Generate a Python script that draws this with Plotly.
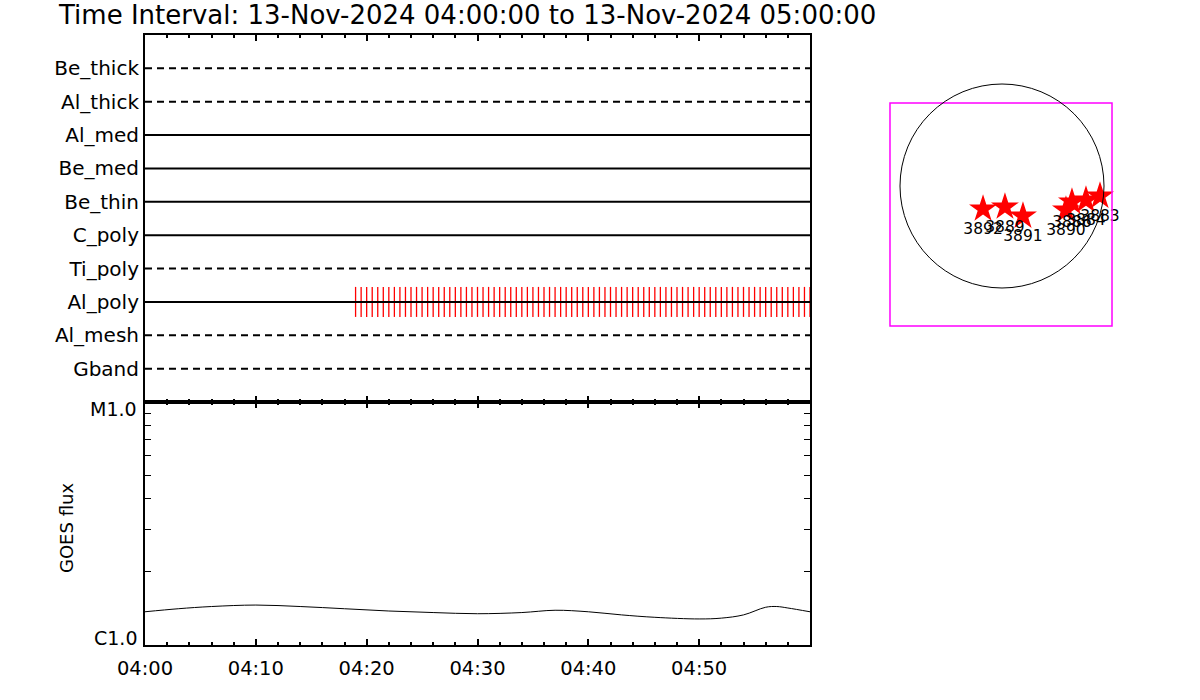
import math
import plotly.graph_objects as go
from datetime import datetime, timedelta

# ---------------- data ----------------
T_START = datetime(2024, 11, 13, 4, 0, 0)
T_END = datetime(2024, 11, 13, 5, 0, 0)

# detectors, bottom to top
detectors = ["Gband", "Al_mesh", "Al_poly", "Ti_poly", "C_poly",
             "Be_thin", "Be_med", "Al_med", "Al_thick", "Be_thick"]
detector_in = [False, False, True, False, True, True, True, True, False, False]

# Al_poly event marks (minutes after 04:00)
event_minutes = [19.0, 19.5, 20.0, 20.5, 21.0, 21.5, 22.0, 22.5, 23.0, 23.5,
                 24.0, 24.5, 25.0, 25.5, 26.0, 26.5, 27.0, 27.5, 28.0, 28.5,
                 29.0, 29.5, 30.0, 30.5, 31.0, 31.5, 32.0, 32.5, 33.0, 33.5,
                 34.0, 34.5, 35.0, 35.5, 36.0, 36.5, 37.0, 37.5, 38.0, 38.5,
                 39.0, 39.5, 40.0, 40.5, 41.0, 41.5, 42.0, 42.5, 43.0, 43.5,
                 44.0, 44.5, 45.0, 45.5, 46.0, 46.5, 47.0, 47.5, 48.0, 48.5,
                 49.0, 49.5, 50.0, 50.5, 51.0, 51.5, 52.0, 52.5, 53.0, 53.5,
                 54.0, 54.5, 55.0, 55.5, 56.0, 56.5, 57.0, 57.5, 58.0, 58.5,
                 59.0, 59.5, 60.0]
event_detector = "Al_poly"

# GOES flux (minutes after 04:00, W/m^2)
goes_minutes = [0, 3, 6, 10, 14, 18, 22, 26, 30, 34, 37, 40, 43, 46, 50,
                52, 54, 56, 57, 58, 60]
goes_flux = [1.37e-6, 1.41e-6, 1.44e-6, 1.46e-6, 1.44e-6, 1.41e-6, 1.38e-6,
             1.36e-6, 1.345e-6, 1.36e-6, 1.39e-6, 1.37e-6, 1.33e-6, 1.30e-6,
             1.28e-6, 1.29e-6, 1.33e-6, 1.43e-6, 1.44e-6, 1.42e-6, 1.37e-6]
goes_tickvals = [1e-6, 1e-5]
goes_ticktext = ["C1.0", "M1.0"]
goes_minor = [2e-6, 3e-6, 4e-6, 5e-6, 6e-6, 7e-6, 8e-6, 9e-6]

time_ticks = ["04:00", "04:10", "04:20", "04:30", "04:40", "04:50"]

# active regions on the disk (arcsec)
ar_numbers = ["3892", "3889", "3891", "3890", "3886", "3884", "3883"]
ar_x = [-180, 28, 199, 607, 664, 797, 930]
ar_y = [-218, -199, -285, -228, -152, -133, -95]
solar_radius = 968
fov_x = [-1063, 1044]
fov_y = [-1329, 788]

# ---------------- helpers ----------------
W, H = 1200, 700
OFF = 0  # page body margin removed by post_script
FONT = "DejaVu Sans"


def t(m):
    return (T_START + timedelta(minutes=m)).strftime("%Y-%m-%d %H:%M:%S")


def px(p):
    return (p - OFF) / W


def py(p):
    return 1 - (p - OFF) / H


fig = go.Figure()

# event marks on Al_poly
lvl = detectors.index(event_detector) + 1
ex, ey = [], []
for m in event_minutes:
    ex += [t(m), t(m), None]
    ey += [lvl - 0.45, lvl + 0.45, None]
fig.add_trace(go.Scatter(x=ex, y=ey, mode="lines", xaxis="x2", yaxis="y2",
                         line=dict(color="red", width=1.3), showlegend=False,
                         hoverinfo="skip"))

# detector lines
for i, (name, inn) in enumerate(zip(detectors, detector_in)):
    fig.add_trace(go.Scatter(
        x=[t(0), t(60)], y=[i + 1, i + 1], mode="lines", xaxis="x2", yaxis="y2",
        line=dict(color="black", width=2, dash=None if inn else "7px,5px"),
        showlegend=False, name=name))

# GOES
fig.add_trace(go.Scatter(x=[t(m) for m in goes_minutes], y=goes_flux,
                         mode="lines", line=dict(color="black", width=1,
                                                 shape="spline"),
                         xaxis="x", yaxis="y", showlegend=False))

# disk stars and labels
fig.add_trace(go.Scatter(x=ar_x, y=ar_y, mode="markers", xaxis="x3",
                         yaxis="y3",
                         marker=dict(symbol="star", size=21, color="red",
                                     line=dict(width=0)),
                         showlegend=False))
fig.add_trace(go.Scatter(x=ar_x, y=[v - 200 for v in ar_y], mode="text",
                         text=ar_numbers, xaxis="x3", yaxis="y3",
                         textfont=dict(family=FONT, size=15.5, color="black"),
                         showlegend=False))

axis_common = dict(showline=True, linecolor="black", linewidth=2,
                   mirror="ticks", ticks="inside", tickcolor="black",
                   tickwidth=2, showgrid=False, zeroline=False,
                   automargin=False)

xdom = [px(145), px(810)]
fig.update_layout(
    width=W, height=H,
    margin=dict(l=0, r=0, t=0, b=0, pad=0, autoexpand=False),
    showlegend=False,
    paper_bgcolor="white", plot_bgcolor="white",
    font=dict(family=FONT, color="black", size=19),
    xaxis=dict(domain=xdom, anchor="y", type="date",
               range=[t(0), t(60)],
               tickvals=[t(10 * i) for i in range(len(time_ticks))],
               ticktext=time_ticks, ticklen=6, ticklabelstandoff=5,
               minor=dict(tickmode="linear", tick0=t(0), dtick=120000,
                          ticklen=3, ticks="inside", tickcolor="black",
                          tickwidth=2),
               tickfont=dict(size=19.5), **axis_common),
    xaxis2=dict(domain=xdom, anchor="y2", type="date", matches="x",
                range=[t(0), t(60)],
                tickvals=[t(10 * i) for i in range(len(time_ticks))],
                showticklabels=False, ticklen=6,
                minor=dict(tickmode="linear", tick0=t(0), dtick=120000,
                           ticklen=3, ticks="inside", tickcolor="black",
                           tickwidth=2),
                **axis_common),
    yaxis=dict(domain=[py(645), py(402)], anchor="x", type="log",
               range=[-6, -5], tickvals=goes_tickvals, showticklabels=False,
               ticklen=8,
               minor=dict(tickvals=goes_minor, ticklen=6, ticks="inside",
                          tickcolor="black", tickwidth=1),
               **axis_common),
    yaxis2=dict(domain=[py(402), py(35)], anchor="x2", range=[0, 11],
                tickmode="array", tickvals=list(range(1, len(detectors) + 1)),
                ticktext=detectors, tickfont=dict(size=20),
                showline=True, linecolor="black", linewidth=2, mirror=True,
                ticks="", showgrid=False, zeroline=False, automargin=False),
    xaxis3=dict(domain=[px(870), px(1140)], anchor="y3",
                range=[(870 - 1002) * 9.49, (1140 - 1002) * 9.49],
                visible=False, automargin=False),
    yaxis3=dict(domain=[py(340), py(60)], anchor="x3",
                range=[(186 - 340) * 9.49, (186 - 60) * 9.49],
                visible=False, automargin=False),
)

fig.add_shape(type="rect", xref="x3", yref="y3", x0=fov_x[0], x1=fov_x[1],
              y0=fov_y[0], y1=fov_y[1], line=dict(color="#ff00ff", width=1.5))
fig.add_shape(type="circle", xref="x3", yref="y3", x0=-solar_radius,
              x1=solar_radius, y0=-solar_radius, y1=solar_radius,
              line=dict(color="black", width=1))

# GOES class labels (placed slightly inside the axis range)
for val, txt, shift in zip(goes_tickvals, goes_ticktext, [7, -7]):
    fig.add_annotation(text=txt, xref="paper", yref="y", x=px(139),
                       y=math.log10(val), yshift=shift, xanchor="right",
                       yanchor="middle", showarrow=False,
                       font=dict(family=FONT, size=19, color="black"))

fig.add_annotation(text="Time Interval: 13-Nov-2024 04:00:00 to 13-Nov-2024 05:00:00",
                   xref="paper", yref="paper", x=px(56), y=py(15),
                   xanchor="left", yanchor="middle", showarrow=False,
                   font=dict(family=FONT, size=26, color="black"))
fig.add_annotation(text="GOES flux", xref="paper", yref="paper",
                   x=px(66), y=py(528), textangle=-90, showarrow=False,
                   xanchor="center", yanchor="middle",
                   font=dict(family=FONT, size=18, color="black"))

fig.write_html("out.html",
               config={"displayModeBar": False},
               post_script="document.body.style.margin='0';"
                           "document.body.style.overflow='hidden';")
